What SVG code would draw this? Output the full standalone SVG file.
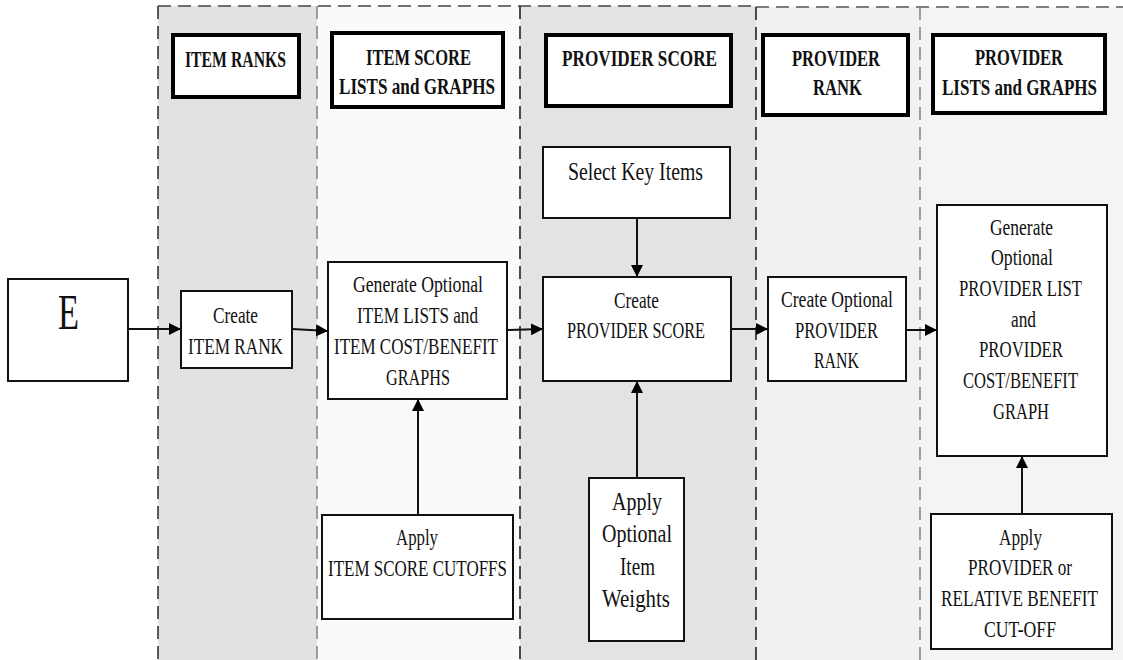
<svg xmlns="http://www.w3.org/2000/svg" width="1123" height="660" viewBox="0 0 1123 660">
  <style>
    .lane-line { fill: none; stroke-width: 1.6; stroke-dasharray: 13 7; }
    .box { fill: #ffffff; stroke: #111111; stroke-width: 2; }
    .hdr { fill: #ffffff; stroke: #000000; stroke-width: 4; }
    .t { font-family: "Liberation Serif", "Times New Roman", serif; font-size: 23px; fill: #111111; }
    .tb { font-family: "Liberation Serif", "Times New Roman", serif; font-size: 24px; font-weight: bold; fill: #111111; }
    .big { font-size: 25px; }
    .edge { fill: none; stroke: #111111; stroke-width: 2; marker-end: url(#arrow); }
  </style>
  <defs>
    <marker id="arrow" viewBox="0 0 12 12" refX="12" refY="6" markerWidth="12" markerHeight="12" markerUnits="userSpaceOnUse" orient="auto">
      <path d="M0,0 L12,6 L0,12 Z" fill="#000000"/>
    </marker>
  </defs>

  <rect width="1123" height="660" fill="#ffffff"/>

  <!-- swimlane backgrounds -->
  <g id="lanes">
    <rect x="158" y="6" width="159" height="654" fill="#e2e2e2"/>
    <rect x="317" y="6" width="203" height="654" fill="#fafafa"/>
    <rect x="520" y="6" width="236" height="654" fill="#e3e3e3"/>
    <rect x="756" y="7" width="164" height="653" fill="#f1f1f1"/>
    <rect x="920" y="7" width="203" height="653" fill="#f4f4f4"/>
    <line class="lane-line" x1="158" y1="6" x2="756" y2="6" stroke="#444444"/>
    <line class="lane-line" x1="756" y1="7" x2="1123" y2="7" stroke="#555555"/>
    <line class="lane-line" x1="158" y1="6" x2="158" y2="660" stroke="#333333"/>
    <line class="lane-line" x1="317" y1="6" x2="317" y2="660" stroke="#888888"/>
    <line class="lane-line" x1="520" y1="6" x2="520" y2="660" stroke="#222222"/>
    <line class="lane-line" x1="756" y1="7" x2="756" y2="660" stroke="#222222"/>
    <line class="lane-line" x1="920" y1="7" x2="920" y2="660" stroke="#888888"/>
  </g>

  <!-- lane headers -->
  <g id="hdr-item-ranks">
    <rect class="hdr" x="173" y="35" width="126" height="62"/>
    <text class="tb" x="185" y="67" textLength="101" lengthAdjust="spacingAndGlyphs">ITEM RANKS</text>
  </g>
  <g id="hdr-item-score">
    <rect class="hdr" x="332" y="33" width="171" height="74"/>
    <text class="tb" x="366" y="65" textLength="105" lengthAdjust="spacingAndGlyphs">ITEM SCORE</text>
    <text class="tb" x="339" y="94" textLength="156" lengthAdjust="spacingAndGlyphs">LISTS and GRAPHS</text>
  </g>
  <g id="hdr-provider-score">
    <rect class="hdr" x="546" y="35" width="185" height="71"/>
    <text class="tb" x="562" y="66" textLength="155" lengthAdjust="spacingAndGlyphs">PROVIDER SCORE</text>
  </g>
  <g id="hdr-provider-rank">
    <rect class="hdr" x="763" y="35" width="145" height="80"/>
    <text class="tb" x="792" y="66" textLength="88" lengthAdjust="spacingAndGlyphs">PROVIDER</text>
    <text class="tb" x="813" y="95" textLength="49" lengthAdjust="spacingAndGlyphs">RANK</text>
  </g>
  <g id="hdr-provider-lists">
    <rect class="hdr" x="933" y="35" width="172" height="78"/>
    <text class="tb" x="975" y="65" textLength="88" lengthAdjust="spacingAndGlyphs">PROVIDER</text>
    <text class="tb" x="942" y="95" textLength="155" lengthAdjust="spacingAndGlyphs">LISTS and GRAPHS</text>
  </g>

  <!-- process nodes -->
  <g id="node-e">
    <rect class="box" x="8" y="279" width="120" height="102"/>
    <text class="t" x="58" y="329" font-size="50" textLength="21" lengthAdjust="spacingAndGlyphs" style="font-size:50px">E</text>
  </g>
  <g id="node-create-item-rank">
    <rect class="box" x="181" y="291" width="111" height="77"/>
    <text class="t" x="213" y="323" textLength="45" lengthAdjust="spacingAndGlyphs">Create</text>
    <text class="t" x="188" y="354" textLength="95" lengthAdjust="spacingAndGlyphs">ITEM RANK</text>
  </g>
  <g id="node-generate-item-lists">
    <rect class="box" x="328" y="262" width="179" height="137"/>
    <text class="t" x="353" y="292" textLength="130" lengthAdjust="spacingAndGlyphs">Generate Optional</text>
    <text class="t" x="357" y="323" textLength="121" lengthAdjust="spacingAndGlyphs">ITEM LISTS and</text>
    <text class="t" x="334" y="354" textLength="164" lengthAdjust="spacingAndGlyphs">ITEM COST/BENEFIT</text>
    <text class="t" x="386" y="385" textLength="64" lengthAdjust="spacingAndGlyphs">GRAPHS</text>
  </g>
  <g id="node-apply-item-cutoffs">
    <rect class="box" x="322" y="515" width="191" height="104"/>
    <text class="t" x="396" y="545" textLength="42" lengthAdjust="spacingAndGlyphs">Apply</text>
    <text class="t" x="328" y="576" textLength="179" lengthAdjust="spacingAndGlyphs">ITEM SCORE CUTOFFS</text>
  </g>
  <g id="node-select-key-items">
    <rect class="box" x="543" y="147" width="187" height="71"/>
    <text class="t big" x="568" y="180" textLength="135" lengthAdjust="spacingAndGlyphs">Select Key Items</text>
  </g>
  <g id="node-create-provider-score">
    <rect class="box" x="543" y="277" width="188" height="104"/>
    <text class="t" x="614" y="308" textLength="45" lengthAdjust="spacingAndGlyphs">Create</text>
    <text class="t" x="567" y="338" textLength="138" lengthAdjust="spacingAndGlyphs">PROVIDER SCORE</text>
  </g>
  <g id="node-apply-item-weights">
    <rect class="box" x="589" y="478" width="95" height="163"/>
    <text class="t big" x="612" y="510" textLength="50" lengthAdjust="spacingAndGlyphs">Apply</text>
    <text class="t big" x="602" y="542" textLength="70" lengthAdjust="spacingAndGlyphs">Optional</text>
    <text class="t big" x="620" y="575" textLength="35" lengthAdjust="spacingAndGlyphs">Item</text>
    <text class="t big" x="602" y="607" textLength="68" lengthAdjust="spacingAndGlyphs">Weights</text>
  </g>
  <g id="node-create-provider-rank">
    <rect class="box" x="768" y="277" width="138" height="104"/>
    <text class="t" x="781" y="307" textLength="112" lengthAdjust="spacingAndGlyphs">Create Optional</text>
    <text class="t" x="795" y="338" textLength="83" lengthAdjust="spacingAndGlyphs">PROVIDER</text>
    <text class="t" x="814" y="368" textLength="45" lengthAdjust="spacingAndGlyphs">RANK</text>
  </g>
  <g id="node-generate-provider-list">
    <rect class="box" x="937" y="205" width="170" height="251"/>
    <text class="t" x="990" y="235" textLength="63" lengthAdjust="spacingAndGlyphs">Generate</text>
    <text class="t" x="991" y="265" textLength="62" lengthAdjust="spacingAndGlyphs">Optional</text>
    <text class="t" x="959" y="296" textLength="123" lengthAdjust="spacingAndGlyphs">PROVIDER LIST</text>
    <text class="t" x="1011" y="327" textLength="25" lengthAdjust="spacingAndGlyphs">and</text>
    <text class="t" x="979" y="357" textLength="84" lengthAdjust="spacingAndGlyphs">PROVIDER</text>
    <text class="t" x="963" y="388" textLength="115" lengthAdjust="spacingAndGlyphs">COST/BENEFIT</text>
    <text class="t" x="993" y="419" textLength="56" lengthAdjust="spacingAndGlyphs">GRAPH</text>
  </g>
  <g id="node-apply-provider-cutoff">
    <rect class="box" x="931" y="514" width="181" height="135"/>
    <text class="t" x="999" y="545" textLength="43" lengthAdjust="spacingAndGlyphs">Apply</text>
    <text class="t" x="968" y="575" textLength="104" lengthAdjust="spacingAndGlyphs">PROVIDER or</text>
    <text class="t" x="941" y="606" textLength="157" lengthAdjust="spacingAndGlyphs">RELATIVE BENEFIT</text>
    <text class="t" x="984" y="637" textLength="72" lengthAdjust="spacingAndGlyphs">CUT-OFF</text>
  </g>

  <!-- connectors -->
  <g id="connectors">
    <line class="edge" x1="128" y1="329" x2="181" y2="329"/>
    <line class="edge" x1="292" y1="329" x2="328" y2="331"/>
    <line class="edge" x1="507" y1="330" x2="543" y2="329"/>
    <line class="edge" x1="731" y1="329" x2="768" y2="329"/>
    <line class="edge" x1="906" y1="330" x2="937" y2="330"/>
    <line class="edge" x1="637" y1="218" x2="637" y2="277"/>
    <line class="edge" x1="637" y1="478" x2="637" y2="381"/>
    <line class="edge" x1="418" y1="515" x2="418" y2="399"/>
    <line class="edge" x1="1022" y1="514" x2="1022" y2="456"/>
  </g>
</svg>
